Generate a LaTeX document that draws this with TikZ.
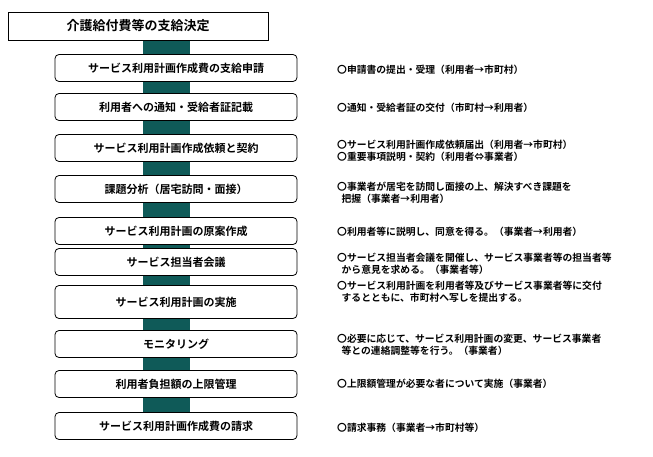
\documentclass[tikz,border=0pt]{standalone}
\usepackage{fontspec}
\setmainfont{Noto Sans CJK JP}
\newfontfamily\jpbold{Noto Sans CJK JP Bold}
\definecolor{barteal}{HTML}{0F5A58}
\begin{document}
\begin{tikzpicture}[x=1pt,y=-1pt,
  stepbox/.style={draw, line width=0.8pt, rounded corners=4pt, minimum width=242pt, minimum height=27pt, font=\jpbold\fontsize{11}{12}\selectfont, inner sep=0pt},
  notetext/.style={anchor=west, align=left, font=\jpbold\fontsize{9.8}{12}\selectfont, inner sep=0pt}]
  \useasboundingbox (0,0) rectangle (653,457);
  % the dark column behind the steps
  \fill[barteal] (143,40) rectangle (190,430);
  \node[draw, line width=0.8pt, fill=white, minimum width=260pt, minimum height=28pt, inner sep=0pt,
        font=\jpbold\fontsize{13}{15}\selectfont] (title) at (138,26) {介護給付費等の支給決定};
  \node[stepbox, fill=white] (s1) at (176,68) {サービス利用計画作成費の支給申請};
  \node[stepbox, fill=white] (s2) at (176,107) {利用者への通知・受給者証記載};
  \node[stepbox, fill=white] (s3) at (176,148) {サービス利用計画作成依頼と契約};
  \node[stepbox, fill=white] (s4) at (176,189) {課題分析（居宅訪問・面接）};
  \node[stepbox, fill=white] (s5) at (176,231) {サービス利用計画の原案作成};
  \node[stepbox, fill=white] (s6) at (176,262) {サービス担当者会議};
  \node[stepbox, fill=white, minimum height=33pt] (s7) at (176,302) {サービス利用計画の実施};
  \node[stepbox, fill=white] (s8) at (176,344) {モニタリング};
  \node[stepbox, fill=white] (s9) at (176,384) {利用者負担額の上限管理};
  \node[stepbox, fill=white] (s10) at (176,426) {サービス利用計画作成費の請求};
  % notes on the right
  \node[notetext] (n1) at (337,70) {〇申請書の提出・受理（利用者→市町村）};
  \node[notetext] (n2) at (337,108) {〇通知・受給者証の交付（市町村→利用者）};
  \node[notetext] (n3) at (337,151) {〇サービス利用計画作成依頼届出（利用者→市町村）\\〇重要事項説明・契約（利用者⇔事業者）};
  \node[notetext] (n4) at (337,193) {〇事業者が居宅を訪問し面接の上、解決すべき課題を\\\ \ 把握（事業者→利用者）};
  \node[notetext] (n5) at (337,232) {〇利用者等に説明し、同意を得る。（事業者→利用者）};
  \node[notetext] (n6) at (337,264) {〇サービス担当者会議を開催し、サービス事業者等の担当者等\\\ \ から意見を求める。（事業者等）};
  \node[notetext] (n7) at (337,292) {〇サービス利用計画を利用者等及びサービス事業者等に交付\\\ \ するとともに、市町村へ写しを提出する。};
  \node[notetext] (n8) at (337,345) {〇必要に応じて、サービス利用計画の変更、サービス事業者\\\ \ 等との連絡調整等を行う。（事業者）};
  \node[notetext] (n9) at (337,384) {〇上限額管理が必要な者について実施（事業者）};
  \node[notetext] (n10) at (337,428) {〇請求事務（事業者→市町村等）};
\end{tikzpicture}
\end{document}
